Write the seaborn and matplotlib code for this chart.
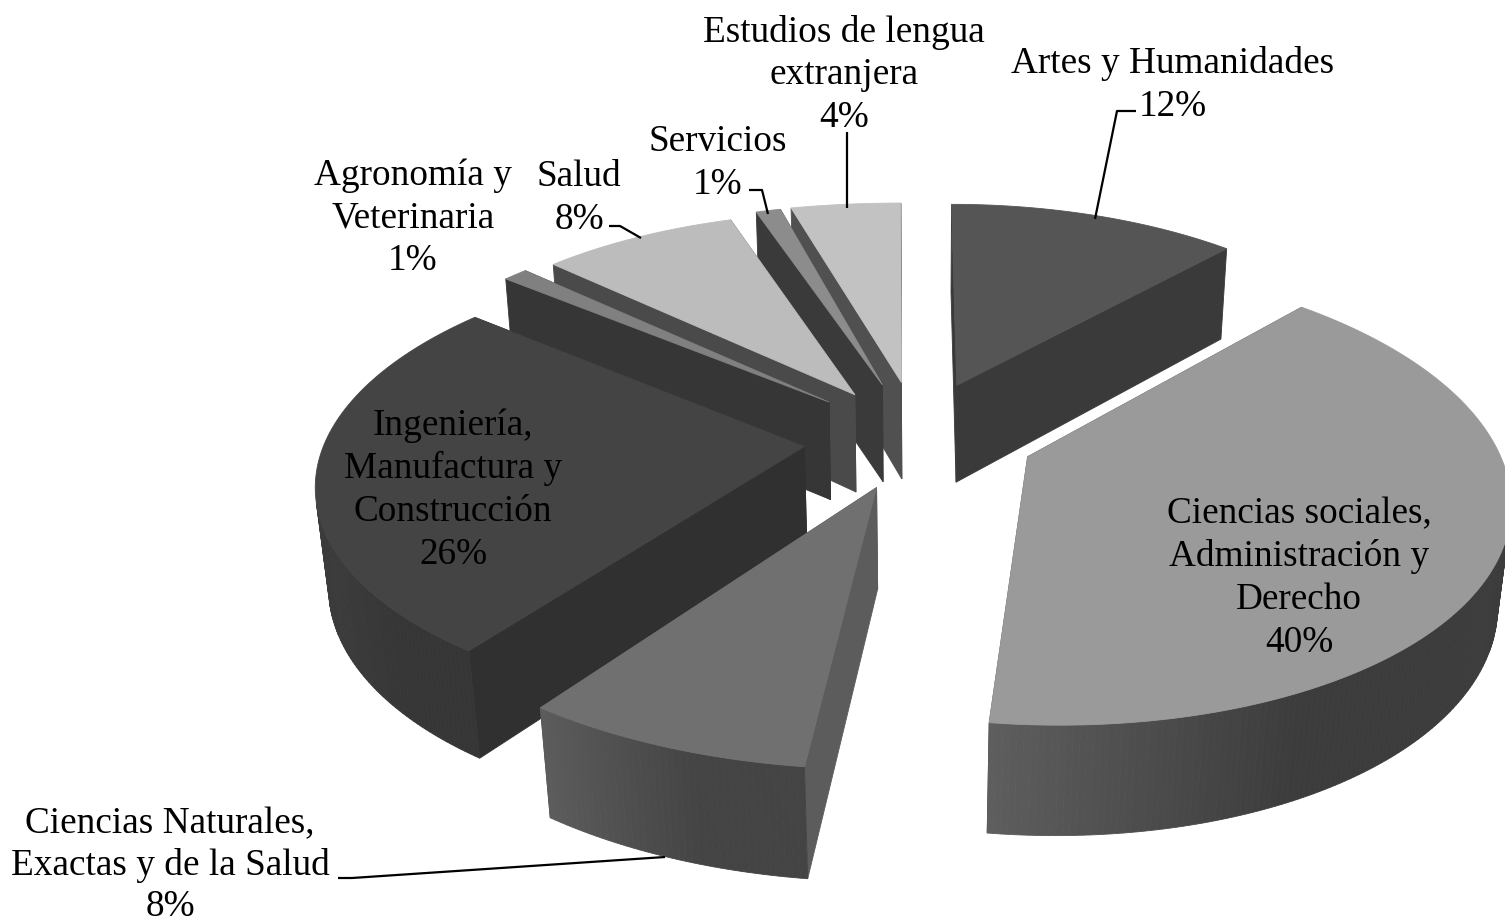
import numpy as np
import pandas as pd
import matplotlib
matplotlib.use("Agg")
import matplotlib.pyplot as plt
from matplotlib.patches import Polygon
import seaborn as sns

# Data
areas = ["Artes y Humanidades", "Ciencias sociales, Administración y Derecho",
         "Ciencias Naturales, Exactas y de la Salud", "Ingeniería, Manufactura y Construcción",
         "Agronomía y Veterinaria", "Salud", "Servicios", "Estudios de lengua extranjera"]
shares = [12, 40, 8, 26, 1, 8, 1, 4]
label_lines = ["Artes y Humanidades\n{}%", "Ciencias sociales,\nAdministración y\nDerecho\n{}%",
               "Ciencias Naturales,\nExactas y de la Salud\n{}%", "Ingeniería,\nManufactura y\nConstrucción\n{}%",
               "Agronomía y\nVeterinaria\n{}%", "Salud\n{}%", "Servicios\n{}%",
               "Estudios de lengua\nextranjera\n{}%"]

# Look of each slice
explode = [0.22, 0.27, 0.28, 0.235, 0.21, 0.20, 0.22, 0.24]
nudge = [(17, -3), (6, -1), (19, -4), (8, 8), (-3, 0), (0, -1), (7, -2), (12, 1)]
xscale = [0.98, 1, 1.04, 1.03, 1.01, 1, 1, 1.12]
skew = [0.017, 0, 0, 0.016, 0, 0, 0, 0.013]
top_grey = [0x55, 0x9a, 0x70, 0x44, 0x80, 0xbc, 0x8c, 0xc2]
cut_grey = [0x3a, 0x50, 0x5c, 0x30, 0x36, 0x4a, 0x3a, 0x50]
wall_left = [0x50, 0x5e, 0x5c, 0x3c, 0x40, 0x50, 0x40, 0x50]
wall_right = [0x3a, 0x3c, 0x44, 0x36, 0x40, 0x50, 0x40, 0x50]
draw_order = [7, 6, 5, 4, 3, 0, 1, 2]
label_pos = [(1173, 85), (1299, 578), (170, 865), (453, 490), (413, 218), (579, 198), (718, 163), (844, 75)]
label_spacing = [1.31, 1.31, 1.25, 1.31, 1.31, 1.31, 1.31, 1.31]
leaders = [[(1095, 219), (1117, 111), (1136, 111)],
           [(665, 857), (352, 878), (338, 878)],
           [(847, 208), (847, 132)],
           [(768, 214), (762, 190), (749, 190)],
           [(641, 238), (620, 226), (609, 226)]]

# Projection of the 3D pie onto the picture
CX, CY = 905, 432
RX, RY = 465, 220
PERSP = 0.149
SHEAR = 9
DEPTH = 101
DROP = 0.022


def project(x, y, z=0.0):
    w = 1 + PERSP * y + DROP * z
    return CX + (RX * x - SHEAR * y) / w, CY - (RY * y - DEPTH * z) / w


def grey(v):
    v = int(v) / 255
    return (v, v, v)


def faces_viewer(quad):
    pts = np.array(quad)
    nxt = np.roll(pts, -1, axis=0)
    return np.sum(pts[:, 0] * nxt[:, 1] - nxt[:, 0] * pts[:, 1]) < 0


df = pd.DataFrame({"area": areas, "share": shares})
df["end"] = df["share"].cumsum() / df["share"].sum() * 2 * np.pi
df["start"] = df["end"] - df["share"] / df["share"].sum() * 2 * np.pi

sns.set_theme(style="white")
plt.rcParams["font.family"] = ["Liberation Serif", "DejaVu Serif"]

fig = plt.figure(figsize=(15.05, 9.23), dpi=100)
ax = fig.add_axes([0, 0, 1, 1])
ax.set_xlim(0, 1505)
ax.set_ylim(923, 0)
ax.axis("off")

for rank, i in enumerate(draw_order):
    row = df.iloc[i]
    mid = (row["start"] + row["end"]) / 2
    ox, oy = explode[i] * np.sin(mid), explode[i] * np.cos(mid)
    a = np.linspace(row["start"], row["end"], max(8, int(row["share"] * 5)))
    xs = ox + np.sin(a) + skew[i] * np.cos(a)
    ys = oy + np.cos(a)
    z0 = 10 * rank
    apex_x = project(ox, oy)[0]

    def add_poly(pts, col, z):
        pts = [(apex_x + (px - apex_x) * xscale[i] + nudge[i][0], py + nudge[i][1]) for px, py in pts]
        ax.add_patch(Polygon(pts, closed=True, facecolor=col, edgecolor=col, linewidth=0.6, zorder=z))

    # the two cut faces
    for xe, ye in [(xs[0], ys[0]), (xs[-1], ys[-1])]:
        quad = [project(ox, oy), project(xe, ye), project(xe, ye, 1), project(ox, oy, 1)]
        add_poly(quad, grey(cut_grey[i]), z0 + 1)

    # outer wall, only the strips turned to the viewer, shaded left to right
    strips = []
    for j in range(len(a) - 1):
        quad = [project(xs[j], ys[j]), project(xs[j + 1], ys[j + 1]),
                project(xs[j + 1], ys[j + 1], 1), project(xs[j], ys[j], 1)]
        if faces_viewer(quad):
            strips.append(quad)
    if strips:
        mids = [np.mean([p[0] for p in q]) for q in strips]
        lo, span = min(mids), max(max(mids) - min(mids), 1)
        for quad, mx in zip(strips, mids):
            t = min(1, (mx - lo) / span / 0.6)
            add_poly(quad, grey(wall_left[i] + (wall_right[i] - wall_left[i]) * t), z0 + 2)

    # top face
    top = [project(ox, oy)] + [project(x, y) for x, y in zip(xs, ys)]
    add_poly(top, grey(top_grey[i]), z0 + 3)

for line in leaders:
    ax.plot(*zip(*line), color="black", lw=1.6, zorder=200, solid_capstyle="butt")

for tpl, val, (lx, ly), sp in zip(label_lines, shares, label_pos, label_spacing):
    ax.text(lx, ly, tpl.format(val), ha="center", va="center", fontsize=26.8,
            linespacing=sp, color="black", zorder=300)

fig.savefig("out.png", dpi=100, facecolor="white")
